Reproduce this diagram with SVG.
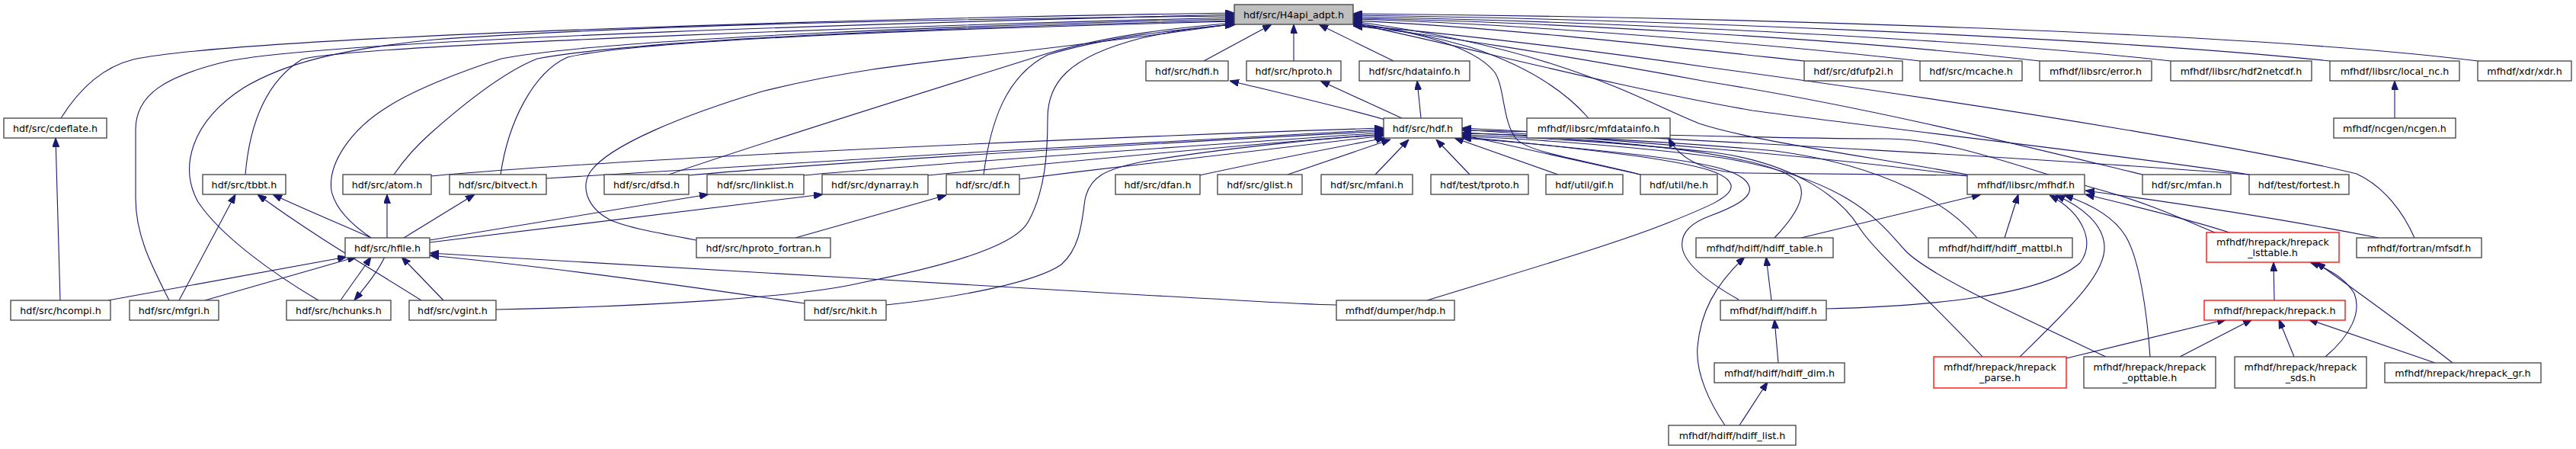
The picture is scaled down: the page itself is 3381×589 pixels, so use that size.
<svg xmlns="http://www.w3.org/2000/svg" width="3381" height="589" viewBox="0 0 3381 589">
<style>
rect{fill:#fff;stroke:#404040;stroke-width:1.3}
rect.root{fill:#bfbfbf}
rect.red{stroke:#ff0000}
text{font-family:"DejaVu Sans",sans-serif;font-size:12.7px;text-anchor:middle;fill:#000}
#edges path{fill:none;stroke:#191970;stroke-width:1.1;marker-end:url(#a)}
</style>
<defs>
<marker id="a" viewBox="0 0 12 9" refX="12" refY="4.5" markerWidth="12" markerHeight="9" markerUnits="userSpaceOnUse" orient="auto"><path d="M0,0 L12,4.5 L0,9 z" fill="#191970" stroke="#191970"/></marker>
</defs>
<rect x="0" y="0" width="3381" height="589" style="fill:#fff;stroke:none"/>
<g id="edges">
<path d="M80,155 C105,115 135,88 175,78 C330,45 1250,22 1620,17"/>
<path d="M222,394 C200,350 178,310 178,260 L178,170 C178,125 215,100 300,80 C460,50 1250,28 1620,19"/>
<path d="M418,394 C360,360 290,310 260,265 C235,220 250,160 320,115 C370,85 440,65 570,52 C850,32 1300,24 1620,21"/>
<path d="M322,229 C327,170 345,110 396,78 C460,58 1250,32 1620,23"/>
<path d="M487,312 C462,295 440,275 435,250 C430,215 460,170 509,140 C540,120 600,95 658,77 C800,50 1300,32 1620,25"/>
<path d="M517,229 C530,210 548,190 565,175 C610,135 660,95 705,77 C850,50 1300,34 1620,27"/>
<path d="M657,229 C667,160 700,95 745,75 C850,50 1300,36 1620,28"/>
<path d="M878,229 C990,190 1200,125 1375,70 C1460,45 1550,36 1620,30"/>
<path d="M914,315 C870,307 820,298 800,288 C770,272 762,245 775,225 C800,190 900,150 1000,120 C1100,95 1180,85 1300,72 C1450,55 1560,40 1620,31"/>
<path d="M1291,229 C1300,160 1320,100 1375,72 C1460,46 1560,38 1620,32"/>
<path d="M651,406 C850,402 1050,390 1130,371 C1260,345 1335,320 1350,290 C1372,250 1375,200 1375,155 C1375,110 1400,75 1498,50 C1550,38 1590,34 1622,32"/>
<path d="M1580,80 L1669,32"/>
<path d="M1698,80 L1698,32"/>
<path d="M1829,80 L1731,32"/>
<path d="M2085,155 C2050,115 2000,85 1930,62 C1870,45 1820,36 1776,30"/>
<path d="M2153,229 C2080,210 2005,200 1990,182 C1972,160 1975,115 1962,95 C1930,55 1840,40 1776,30"/>
<path d="M2582,229 C2450,205 2300,185 2230,162 C2150,130 2050,65 1776,28"/>
<path d="M2368,80 C2200,62 1960,35 1776,27"/>
<path d="M2520,80 C2300,55 1960,30 1776,25"/>
<path d="M2677,80 C2420,50 2000,28 1776,24"/>
<path d="M2849,80 C2600,52 2100,28 1776,22"/>
<path d="M3058,80 C2750,48 2150,25 1776,20"/>
<path d="M3252,80 C2950,42 2250,22 1776,18"/>
<path d="M3169,312 C3155,280 3130,245 3093,228 C3000,205 2700,150 2240,88 C2050,60 1860,40 1776,33"/>
<path d="M2812,229 C2650,190 2450,140 2240,107 C2050,72 1860,42 1776,34"/>
<path d="M2952,229 C2800,205 2500,172 2300,145 C2100,110 1900,55 1776,31"/>
<path d="M1818,157 C1760,140 1680,122 1614,106"/>
<path d="M1840,155 L1733,106"/>
<path d="M1865,155 L1860,106"/>
<path d="M566,231 C850,205 1500,178 1816,168"/>
<path d="M717,234 C950,218 1550,184 1816,170"/>
<path d="M904,230 C1100,212 1550,186 1816,172"/>
<path d="M1055,230 C1250,212 1650,186 1816,174"/>
<path d="M1218,230 C1420,210 1680,186 1816,176"/>
<path d="M1338,235 C1520,212 1720,188 1816,178"/>
<path d="M1574,230 C1680,207 1770,190 1818,181"/>
<path d="M1690,229 L1825,183"/>
<path d="M1163,400 C1260,390 1360,370 1393,347 C1418,325 1420,290 1424,262 C1430,232 1450,222 1500,212 C1620,192 1760,180 1816,177"/>
<path d="M1805,229 L1849,183"/>
<path d="M1929,229 L1885,183"/>
<path d="M2045,229 L1909,181"/>
<path d="M2153,229 L1919,177"/>
<path d="M2582,231 C2400,205 2100,182 1919,170"/>
<path d="M2952,229 C2650,205 2150,180 1919,168"/>
<path d="M2907,305 C2870,290 2830,270 2760,250 C2650,220 2560,182 2476,182 C2320,182 2050,173 1919,171"/>
<path d="M2329,312 C2350,290 2372,262 2362,242 C2340,205 2150,185 1919,174"/>
<path d="M2595,312 C2560,270 2480,218 2330,198 C2150,182 1980,176 1919,175"/>
<path d="M2602,468 C2530,390 2460,330 2440,298 C2418,262 2360,215 2250,200 C2120,186 1970,178 1919,177"/>
<path d="M2764,468 C2640,410 2530,360 2500,328 C2470,295 2430,235 2260,207 C2130,190 1970,180 1919,179"/>
<path d="M1873,394 C2000,355 2120,320 2190,292 C2240,272 2275,258 2272,243 C2268,228 2240,218 2150,205 C2050,192 1960,183 1919,180"/>
<path d="M2282,393 C2250,375 2212,350 2208,325 C2205,305 2220,292 2245,283 C2280,270 2300,258 2296,245 C2290,225 2250,215 2150,203 C2050,192 1960,184 1919,181"/>
<path d="M2582,230 L2290,227 C2240,226 2205,210 2190,181"/>
<path d="M2364,312 L2600,255"/>
<path d="M2631,312 L2649,255"/>
<path d="M2397,405 C2530,402 2680,388 2730,345 C2750,318 2735,280 2690,256"/>
<path d="M2651,468 C2710,410 2765,360 2762,322 C2760,295 2735,272 2698,256"/>
<path d="M2822,468 C2818,410 2808,340 2790,310 C2775,285 2745,268 2709,256"/>
<path d="M2926,305 C2880,290 2800,270 2737,255"/>
<path d="M3122,312 C3020,292 2870,268 2737,250"/>
<path d="M2985,394 L2984,344"/>
<path d="M3052,468 C3085,440 3100,410 3090,385 C3078,365 3055,352 3032,344"/>
<path d="M3219,476 C3160,430 3090,380 3040,344"/>
<path d="M2712,470 L2922,419"/>
<path d="M2861,468 L2956,419"/>
<path d="M3011,468 L2991,419"/>
<path d="M3196,476 L3030,419"/>
<path d="M2325,394 L2318,337"/>
<path d="M2334,476 L2329,419"/>
<path d="M2283,558 L2320,501"/>
<path d="M2264,558 C2245,530 2225,490 2228,455 C2232,410 2250,375 2290,337"/>
<path d="M3143,155 L3143,106"/>
<path d="M487,312 C450,295 400,275 358,255"/>
<path d="M508,312 L508,255"/>
<path d="M530,312 L623,255"/>
<path d="M564,315 L930,255"/>
<path d="M564,318 L1080,255"/>
<path d="M505,337 C495,358 478,378 465,394"/>
<path d="M142,394 L455,337"/>
<path d="M269,394 L468,337"/>
<path d="M447,394 C460,375 475,355 487,337"/>
<path d="M582,394 L527,337"/>
<path d="M1056,398 C900,375 700,348 564,335"/>
<path d="M1754,400 C1700,399 1650,395 1500,387 C1200,370 800,345 564,332"/>
<path d="M235,394 L309,255"/>
<path d="M553,394 C500,360 420,315 338,255"/>
<path d="M79,394 L73,181"/>
<path d="M1044,312 L1242,256"/>
</g>
<g id="n_H4api"><rect class="root" x="1620" y="6" width="156" height="26"/><text x="1698" y="23.5">hdf/src/H4api_adpt.h</text></g>
<g id="n_hdfi"><rect x="1504" y="80" width="108" height="26"/><text x="1558" y="97.5">hdf/src/hdfi.h</text></g>
<g id="n_hproto"><rect x="1636" y="80" width="124" height="26"/><text x="1698" y="97.5">hdf/src/hproto.h</text></g>
<g id="n_hdatainfo"><rect x="1784" y="80" width="145" height="26"/><text x="1856.5" y="97.5">hdf/src/hdatainfo.h</text></g>
<g id="n_dfufp2i"><rect x="2368" y="80" width="129" height="26"/><text x="2432.5" y="97.5">hdf/src/dfufp2i.h</text></g>
<g id="n_mcache"><rect x="2520" y="80" width="134" height="26"/><text x="2587" y="97.5">hdf/src/mcache.h</text></g>
<g id="n_error"><rect x="2677" y="80" width="147" height="26"/><text x="2750.5" y="97.5">mfhdf/libsrc/error.h</text></g>
<g id="n_hdf2netcdf"><rect x="2849" y="80" width="185" height="26"/><text x="2941.5" y="97.5">mfhdf/libsrc/hdf2netcdf.h</text></g>
<g id="n_local_nc"><rect x="3058" y="80" width="170" height="26"/><text x="3143" y="97.5">mfhdf/libsrc/local_nc.h</text></g>
<g id="n_xdr"><rect x="3252" y="80" width="123" height="26"/><text x="3313.5" y="97.5">mfhdf/xdr/xdr.h</text></g>
<g id="n_cdeflate"><rect x="5" y="155" width="135" height="26"/><text x="72.5" y="172.5">hdf/src/cdeflate.h</text></g>
<g id="n_hdf"><rect x="1816" y="155" width="103" height="26"/><text x="1867.5" y="172.5">hdf/src/hdf.h</text></g>
<g id="n_mfdatainfo"><rect x="2004" y="155" width="188" height="26"/><text x="2098" y="172.5">mfhdf/libsrc/mfdatainfo.h</text></g>
<g id="n_ncgen"><rect x="3063" y="155" width="160" height="26"/><text x="3143" y="172.5">mfhdf/ncgen/ncgen.h</text></g>
<g id="n_tbbt"><rect x="266" y="229" width="109" height="26"/><text x="320.5" y="246.5">hdf/src/tbbt.h</text></g>
<g id="n_atom"><rect x="450" y="229" width="116" height="26"/><text x="508" y="246.5">hdf/src/atom.h</text></g>
<g id="n_bitvect"><rect x="590" y="229" width="127" height="26"/><text x="653.5" y="246.5">hdf/src/bitvect.h</text></g>
<g id="n_dfsd"><rect x="793" y="229" width="111" height="26"/><text x="848.5" y="246.5">hdf/src/dfsd.h</text></g>
<g id="n_linklist"><rect x="928" y="229" width="127" height="26"/><text x="991.5" y="246.5">hdf/src/linklist.h</text></g>
<g id="n_dynarray"><rect x="1079" y="229" width="139" height="26"/><text x="1148.5" y="246.5">hdf/src/dynarray.h</text></g>
<g id="n_df"><rect x="1242" y="229" width="96" height="26"/><text x="1290" y="246.5">hdf/src/df.h</text></g>
<g id="n_dfan"><rect x="1464" y="229" width="111" height="26"/><text x="1519.5" y="246.5">hdf/src/dfan.h</text></g>
<g id="n_glist"><rect x="1598" y="229" width="111" height="26"/><text x="1653.5" y="246.5">hdf/src/glist.h</text></g>
<g id="n_mfani"><rect x="1734" y="229" width="120" height="26"/><text x="1794" y="246.5">hdf/src/mfani.h</text></g>
<g id="n_tproto"><rect x="1878" y="229" width="128" height="26"/><text x="1942" y="246.5">hdf/test/tproto.h</text></g>
<g id="n_gif"><rect x="2029" y="229" width="101" height="26"/><text x="2079.5" y="246.5">hdf/util/gif.h</text></g>
<g id="n_he"><rect x="2153" y="229" width="101" height="26"/><text x="2203.5" y="246.5">hdf/util/he.h</text></g>
<g id="n_mfhdf"><rect x="2582" y="229" width="154" height="26"/><text x="2659" y="246.5">mfhdf/libsrc/mfhdf.h</text></g>
<g id="n_mfan"><rect x="2812" y="229" width="116" height="26"/><text x="2870" y="246.5">hdf/src/mfan.h</text></g>
<g id="n_fortest"><rect x="2952" y="229" width="131" height="26"/><text x="3017.5" y="246.5">hdf/test/fortest.h</text></g>
<g id="n_hfile"><rect x="453" y="312" width="111" height="26"/><text x="508.5" y="329.5">hdf/src/hfile.h</text></g>
<g id="n_hproto_fortran"><rect x="914" y="312" width="176" height="26"/><text x="1002" y="329.5">hdf/src/hproto_fortran.h</text></g>
<g id="n_hdiff_table"><rect x="2226" y="312" width="180" height="26"/><text x="2316" y="329.5">mfhdf/hdiff/hdiff_table.h</text></g>
<g id="n_hdiff_mattbl"><rect x="2531" y="312" width="189" height="26"/><text x="2625.5" y="329.5">mfhdf/hdiff/hdiff_mattbl.h</text></g>
<g id="n_lsttable"><rect class="red" x="2896" y="305" width="174" height="39"/><text x="2983" y="321.5">mfhdf/hrepack/hrepack</text><text x="2983" y="336">_lsttable.h</text></g>
<g id="n_mfsdf"><rect x="3093" y="312" width="164" height="26"/><text x="3175" y="329.5">mfhdf/fortran/mfsdf.h</text></g>
<g id="n_hcompi"><rect x="14" y="394" width="131" height="26"/><text x="79.5" y="411.5">hdf/src/hcompi.h</text></g>
<g id="n_mfgri"><rect x="170" y="394" width="117" height="26"/><text x="228.5" y="411.5">hdf/src/mfgri.h</text></g>
<g id="n_hchunks"><rect x="376" y="394" width="137" height="26"/><text x="444.5" y="411.5">hdf/src/hchunks.h</text></g>
<g id="n_vgint"><rect x="537" y="394" width="114" height="26"/><text x="594" y="411.5">hdf/src/vgint.h</text></g>
<g id="n_hkit"><rect x="1056" y="394" width="107" height="26"/><text x="1109.5" y="411.5">hdf/src/hkit.h</text></g>
<g id="n_hdp"><rect x="1754" y="394" width="155" height="26"/><text x="1831.5" y="411.5">mfhdf/dumper/hdp.h</text></g>
<g id="n_hdiff"><rect x="2258" y="394" width="139" height="26"/><text x="2327.5" y="411.5">mfhdf/hdiff/hdiff.h</text></g>
<g id="n_hrepack"><rect class="red" x="2893" y="394" width="185" height="26"/><text x="2985.5" y="411.5">mfhdf/hrepack/hrepack.h</text></g>
<g id="n_parse"><rect class="red" x="2538" y="468" width="174" height="41"/><text x="2625" y="485.5">mfhdf/hrepack/hrepack</text><text x="2625" y="500">_parse.h</text></g>
<g id="n_opttable"><rect x="2735" y="468" width="173" height="41"/><text x="2821.5" y="485.5">mfhdf/hrepack/hrepack</text><text x="2821.5" y="500">_opttable.h</text></g>
<g id="n_sds"><rect x="2933" y="468" width="173" height="41"/><text x="3019.5" y="485.5">mfhdf/hrepack/hrepack</text><text x="3019.5" y="500">_sds.h</text></g>
<g id="n_gr"><rect x="3130" y="476" width="205" height="26"/><text x="3232.5" y="493.5">mfhdf/hrepack/hrepack_gr.h</text></g>
<g id="n_hdiff_dim"><rect x="2250" y="476" width="171" height="26"/><text x="2335.5" y="493.5">mfhdf/hdiff/hdiff_dim.h</text></g>
<g id="n_hdiff_list"><rect x="2190" y="558" width="167" height="26"/><text x="2273.5" y="575.5">mfhdf/hdiff/hdiff_list.h</text></g>
</svg>
